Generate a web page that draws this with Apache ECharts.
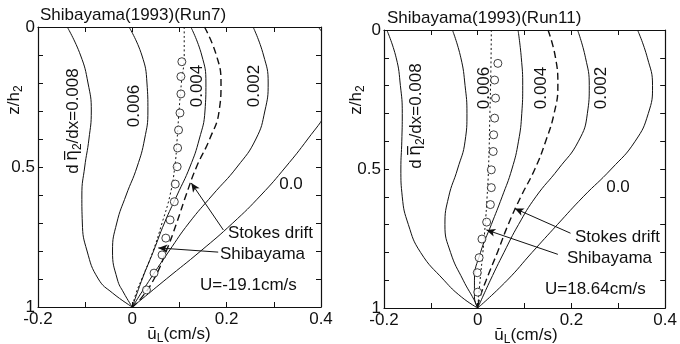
<!DOCTYPE html>
<html><head><meta charset="utf-8">
<script src="https://cdn.jsdelivr.net/npm/echarts@6/dist/echarts.min.js"></script>
<style>html,body{margin:0;padding:0;background:#fff}#c{width:680px;height:344px}</style>
</head><body><div id="c"></div>
<script>
// ---- data: [u_L (cm/s), z/h2] ----
const left008 = [[-0.138,0],[-0.110,0.1],[-0.094,0.2],[-0.087,0.3],[-0.092,0.4],[-0.101,0.5],[-0.107,0.6],[-0.106,0.7],[-0.096,0.8],[-0.072,0.9],[-0.042,0.95],[0,1]];
const left006 = [[-0.007,0],[0.020,0.1],[0.031,0.2],[0.033,0.3],[0.026,0.4],[0.010,0.5],[-0.013,0.6],[-0.033,0.7],[-0.042,0.8],[-0.032,0.9],[-0.018,0.95],[0,1]];
const left004 = [[0.124,0],[0.147,0.1],[0.156,0.2],[0.154,0.3],[0.142,0.4],[0.122,0.5],[0.095,0.6],[0.068,0.7],[0.045,0.8],[0.021,0.9],[0,1]];
const left002 = [[0.256,0],[0.278,0.1],[0.288,0.2],[0.281,0.3],[0.262,0.4],[0.222,0.5],[0.170,0.6],[0.120,0.7],[0.078,0.8],[0.038,0.9],[0,1]];
const left00  = [[0.394,0],[0.430,0.1],[0.442,0.2],[0.414,0.3],[0.372,0.4],[0.325,0.5],[0.273,0.6],[0.213,0.7],[0.145,0.8],[0.072,0.9],[0,1]];
const leftStokes = [[0.153,0],[0.178,0.1],[0.188,0.2],[0.184,0.3],[0.164,0.4],[0.136,0.5],[0.114,0.6],[0.094,0.7],[0.072,0.8],[0.046,0.9],[0.018,0.97],[0,1]];
const leftShiba  = [[0.110,0],[0.110,0.1],[0.104,0.2],[0.099,0.3],[0.095,0.4],[0.090,0.5],[0.080,0.6],[0.063,0.7],[0.044,0.8],[0.020,0.9],[0.008,0.95],[0,1]];
const leftObs = [[0.105,0.124],[0.103,0.177],[0.103,0.239],[0.101,0.307],[0.098,0.368],[0.096,0.432],[0.095,0.499],[0.091,0.561],[0.089,0.624],[0.080,0.689],[0.071,0.754],[0.063,0.814],[0.046,0.879],[0.030,0.939]];

const right008 = [[-0.194,0],[-0.174,0.1],[-0.165,0.2],[-0.161,0.3],[-0.162,0.4],[-0.164,0.5],[-0.161,0.6],[-0.148,0.7],[-0.122,0.8],[-0.072,0.9],[-0.035,0.96],[0,1]];
const right006 = [[-0.054,0],[-0.036,0.1],[-0.027,0.2],[-0.023,0.3],[-0.027,0.4],[-0.043,0.5],[-0.062,0.6],[-0.070,0.7],[-0.058,0.8],[-0.031,0.9],[-0.008,0.97],[0,1]];
const right004 = [[0.086,0],[0.093,0.1],[0.096,0.2],[0.094,0.3],[0.087,0.4],[0.073,0.5],[0.052,0.6],[0.029,0.7],[0.006,0.8],[-0.007,0.9],[-0.007,0.96],[0,1]];
const right002 = [[0.213,0],[0.230,0.1],[0.238,0.2],[0.234,0.3],[0.215,0.4],[0.172,0.5],[0.124,0.6],[0.087,0.7],[0.056,0.8],[0.027,0.9],[0,1]];
const right00  = [[0.341,0],[0.362,0.1],[0.373,0.2],[0.364,0.3],[0.336,0.4],[0.285,0.5],[0.225,0.6],[0.170,0.7],[0.116,0.8],[0.063,0.9],[0,1]];
const rightStokes = [[0.150,0],[0.166,0.1],[0.171,0.2],[0.163,0.3],[0.145,0.4],[0.122,0.5],[0.092,0.6],[0.065,0.7],[0.042,0.8],[0.018,0.9],[0.004,0.965],[0,1]];
const rightShiba  = [[0.029,0],[0.028,0.15],[0.026,0.3],[0.023,0.5],[0.020,0.6],[0.016,0.7],[0.011,0.8],[0.005,0.9],[0,1]];
const rightObs = [[0.043,0.120],[0.036,0.180],[0.038,0.245],[0.036,0.317],[0.034,0.377],[0.033,0.437],[0.029,0.503],[0.029,0.567],[0.027,0.628],[0.019,0.691],[0.009,0.752],[0.003,0.819],[-0.001,0.873],[0.000,0.943]];

// annotation pointers (data coords: from label -> to curve)
const leftStokesArrow  = [[0.193,0.725],[0.125,0.557]];
const leftShibaPointer = [[0.182,0.804],[0.055,0.789]];
const rightStokesArrow  = [[0.198,0.731],[0.079,0.642]];
const rightShibaPointer = [[0.171,0.807],[0.0185,0.719]];

// tick labels
const xTickValues = [-0.2, 0, 0.2, 0.4];
const xTickText   = ['-0.2', '0', '0.2', '0.4'];
const yTickValues = [0, 0.5, 1];
const yTickText   = ['0', '0.5', '1'];

// ---- chart ----
const FONT = "'Liberation Sans', Arial, Helvetica, sans-serif";
const INK = '#111';
const SMOOTH = 0.5;
function fmt(values, texts){ return function(v){ for (let i=0;i<values.length;i++){ if (Math.abs(v-values[i])<1e-6) return texts[i]; } return ''; }; }
function axisCommon(){ return {
  axisLine:{show:true,onZero:false,lineStyle:{color:INK,width:1.2}},
  axisTick:{show:true,inside:true,length:5,lineStyle:{color:INK,width:1}},
  splitLine:{show:false} }; }
function xAx(grid,pos){ return Object.assign(axisCommon(),{type:'value',gridIndex:grid,position:pos,min:-0.2,max:0.4,interval:0.1,
  axisLabel:{show:pos==='bottom',formatter:fmt(xTickValues,xTickText),color:INK,fontSize:17,fontFamily:FONT,margin:4,showMinLabel:true,showMaxLabel:true}}); }
function yAx(grid,pos){ return Object.assign(axisCommon(),{type:'value',gridIndex:grid,position:pos,inverse:true,min:0,max:1,interval:0.1,
  axisLabel:{show:pos==='left',formatter:fmt(yTickValues,yTickText),color:INK,fontSize:17,fontFamily:FONT,margin:3,showMinLabel:true,showMaxLabel:true}}); }

function solid(data,ai){ return {type:'line',xAxisIndex:ai,yAxisIndex:ai,data:data,smooth:SMOOTH,symbol:'none',clip:true,silent:true,z:2,
  lineStyle:{color:INK,width:1}}; }
function dashed(data,ai,arrow){ return {type:'line',xAxisIndex:ai,yAxisIndex:ai,data:data,smooth:SMOOTH,symbol:'none',clip:true,silent:true,z:3,
  lineStyle:{color:INK,width:1.4,type:[7,4]}, markLine:pointer(arrow)}; }
function dotted(data,ai,arrow){ return {type:'line',xAxisIndex:ai,yAxisIndex:ai,data:data,smooth:SMOOTH,symbol:'none',clip:true,silent:true,z:3,
  lineStyle:{color:INK,width:1,type:[2,2.5]}, markLine:pointer(arrow)}; }
function obs(data,ai){ return {type:'scatter',xAxisIndex:ai,yAxisIndex:ai,data:data,symbol:'circle',symbolSize:8,silent:true,z:5,
  itemStyle:{color:'#fff',borderColor:INK,borderWidth:1}}; }
function pointer(a){ return {silent:true,symbol:['none','arrow'],symbolSize:[6,9],label:{show:false},animation:false,
  lineStyle:{color:INK,width:1,type:'solid'},emphasis:{disabled:true},data:[[{coord:a[0]},{coord:a[1]}]]}; }

const RICH = {a:{fontSize:17,fontFamily:FONT,fill:INK}, e:{fontSize:17,fontFamily:"'DejaVu Sans', sans-serif",fill:INK},
  b:{fontSize:12,fontFamily:FONT,fill:INK,padding:[9,0,0,0]}};
function txt(x,y,text,align,rot){ return {type:'text',x:x,y:y,rotation:rot||0,silent:true,z:10,
  style:{text:text,fill:INK,font:'17px '+FONT,align:align||'left',verticalAlign:'middle',rich:RICH}}; }
const LBL = '{a|d\u2009}{e|\u03b7\u0305}{b|2}{a|/dx=0.008}';
const R90 = Math.PI/2;

const chart = echarts.init(document.getElementById('c'),null,{renderer:'canvas'});
chart.setOption({
  animation:false,
  backgroundColor:'#fff',
  grid:[{left:38,top:27,width:283,height:280},{left:384,top:30,width:282,height:278}],
  xAxis:[xAx(0,'bottom'),xAx(0,'top'),xAx(1,'bottom'),xAx(1,'top')],
  yAxis:[yAx(0,'left'),yAx(0,'right'),yAx(1,'left'),yAx(1,'right')],
  series:[
    solid(left008,0),solid(left006,0),solid(left004,0),solid(left002,0),solid(left00,0),
    dashed(leftStokes,0,leftStokesArrow),dotted(leftShiba,0,leftShibaPointer),obs(leftObs,0),
    solid(right008,2),solid(right006,2),solid(right004,2),solid(right002,2),solid(right00,2),
    dashed(rightStokes,2,rightStokesArrow),dotted(rightShiba,2,rightShibaPointer),obs(rightObs,2)
  ],
  graphic:[
    txt(40,15.5,'Shibayama(1993)(Run7)'),
    txt(387,18.5,'Shibayama(1993)(Run11)'),
    txt(14,100,'{a|z/h}{b|2}','center',R90),
    txt(356,100,'{a|z/h}{b|2}','center',R90),
    txt(179,334,'{a|\u016b}{b|L}{a|(cm/s)}','center'),
    txt(526,335,'{a|\u016b}{b|L}{a|(cm/s)}','center'),
    txt(73,121,LBL,'center',R90),
    txt(134,106,'0.006','center',R90),
    txt(197,86,'0.004','center',R90),
    txt(254,86,'0.002','center',R90),
    txt(416,116,LBL,'center',R90),
    txt(484,88,'0.006','center',R90),
    txt(541,88,'0.004','center',R90),
    txt(601,88,'0.002','center',R90),
    txt(291,184,'0.0','center'),
    txt(618,187,'0.0','center'),
    txt(228,233,'Stokes drift'),
    txt(575,237,'Stokes drift'),
    txt(220,254,'Shibayama'),
    txt(567,258,'Shibayama'),
    txt(200,285,'U=-19.1cm/s'),
    txt(545,289,'U=18.64cm/s')
  ]
});
</script></body></html>
